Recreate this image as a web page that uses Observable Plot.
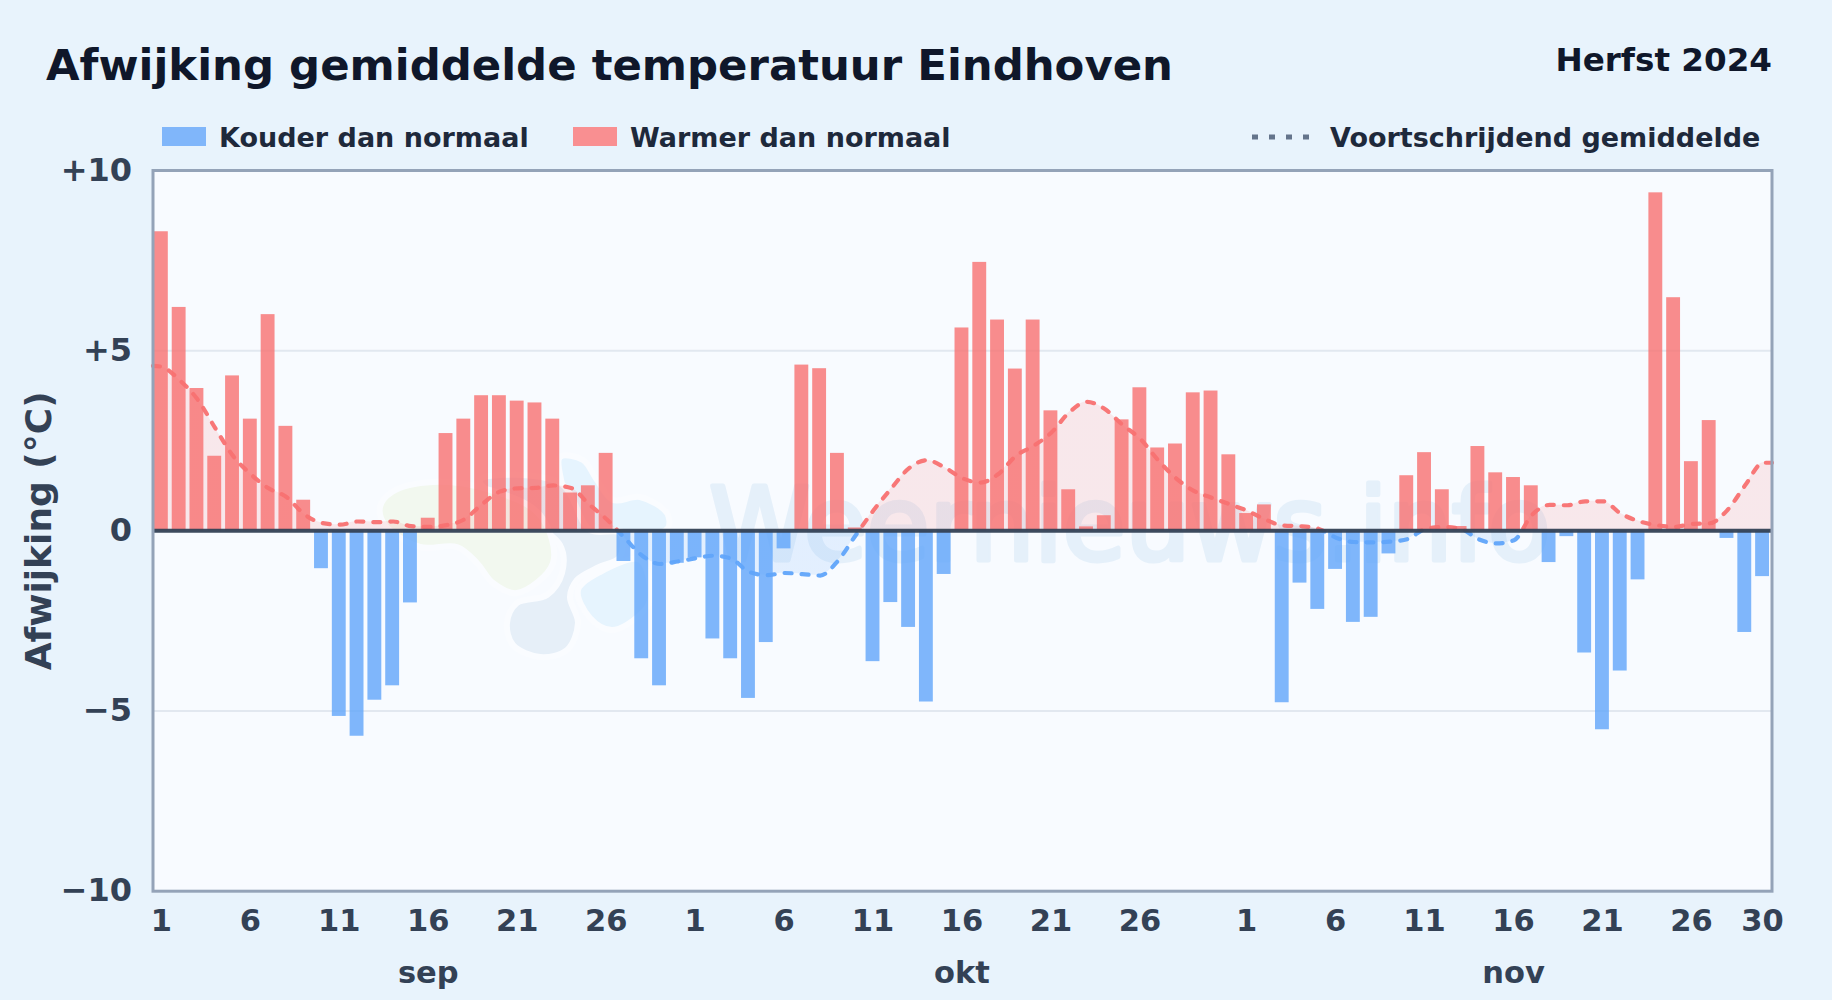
<!DOCTYPE html>
<html lang="nl">
<head>
<meta charset="utf-8">
<title>Afwijking gemiddelde temperatuur Eindhoven</title>
<script src="https://cdn.jsdelivr.net/npm/d3@7"></script>
<script src="https://cdn.jsdelivr.net/npm/@observablehq/plot@0.6"></script>
<style>
  html, body { margin: 0; padding: 0; background: #e8f3fc; }
  body { width: 1832px; height: 1000px; overflow: hidden; font-family: "DejaVu Sans", sans-serif; font-weight: 700; }
  #head { position: relative; width: 1832px; height: 155px; }
  #head > * { position: absolute; white-space: nowrap; line-height: 1; }
  #title { left: 46px; top: 44px; font-size: 43.4px; color: #0f172a; }
  #season { right: 60px; top: 44px; font-size: 32.6px; color: #0f172a; }
  .lbl { top: 123.5px; font-size: 27px; color: #1e293b; }
  .sw { top: 127px; width: 44px; height: 19px; }
  svg { display: block; }
</style>
</head>
<body>
<div id="head">
  <div id="title">Afwijking gemiddelde temperatuur Eindhoven</div>
  <div id="season">Herfst 2024</div>
  <div class="sw" style="left:162px;background:#80b6fa"></div>
  <div class="lbl" style="left:219px">Kouder dan normaal</div>
  <div class="sw" style="left:573px;background:#f98f91"></div>
  <div class="lbl" style="left:630px">Warmer dan normaal</div>
  <svg style="position:absolute;left:1250px;top:132px" width="60" height="10"><line x1="2" x2="60" y1="5" y2="5" stroke="#64748b" stroke-width="5" stroke-dasharray="6 11"/></svg>
  <div class="lbl" style="left:1330px">Voortschrijdend gemiddelde</div>
</div>
<script>
const sepValues = [8.3,6.2,3.95,2.07,4.3,3.1,6.0,2.9,0.85,-1.05,-5.15,-5.7,-4.7,-4.3,-2.0,0.35,2.7,3.1,3.75,3.75,3.6,3.55,3.1,1.05,1.25,2.15,-0.85,-3.55,-4.3,-0.9];
const oktValues = [-0.75,-3.0,-3.55,-4.65,-3.1,-0.5,4.6,4.5,2.15,0.08,-3.63,-1.99,-2.68,-4.75,-1.21,5.63,7.45,5.85,4.49,5.85,3.33,1.14,0.11,0.42,3.08,3.97,2.3,2.41,3.83,3.88,2.11];
const novValues = [0.48,0.72,-4.77,-1.45,-2.18,-1.07,-2.54,-2.4,-0.64,1.53,2.17,1.14,0.12,2.34,1.61,1.48,1.25,-0.88,-0.16,-3.39,-5.52,-3.89,-1.36,9.38,6.47,1.92,3.06,-0.21,-2.82,-1.27];

const sepAverage = [4.55,4.18,3.65,2.85,2.08,1.57,1.18,0.94,0.46,0.22,0.17,0.26,0.24,0.26,0.13,0.11,0.16,0.32,0.74,1.09,1.18,1.19,1.26,1.19,0.74,0.32,-0.19,-0.69,-0.92,-0.85];
const oktAverage = [-0.76,-0.69,-0.77,-1.14,-1.23,-1.17,-1.2,-1.24,-0.83,-0.12,0.57,1.18,1.74,1.96,1.76,1.46,1.34,1.57,2.08,2.36,2.73,3.29,3.58,3.38,2.94,2.55,1.96,1.46,1.11,0.92,0.74];
const novAverage = [0.56,0.32,0.15,0.13,0.06,-0.19,-0.31,-0.32,-0.3,-0.23,0.05,0.11,0.06,-0.23,-0.35,-0.26,0.44,0.72,0.71,0.82,0.82,0.48,0.27,0.16,0.11,0.19,0.21,0.58,1.27,1.89];
const averageAtStart = 4.58, averageAtEnd = 1.89;

const monthNames = ["sep", "okt", "nov"];
const monthLabelDay = 16;
const dayTicks = [1, 6, 11, 16, 21, 26];
const finalDayTick = 30;
const yTicks = [-10, -5, 0, 5, 10];
const gridValues = [-5, 5];
const yLabel = "Afwijking (\u00b0C)";
const watermark = "Weernieuws.info";

const months = [[sepValues, sepAverage], [oktValues, oktAverage], [novValues, novAverage]];
const rows = [];
months.forEach(([vals, avg], m) => vals.forEach((v, d) => rows.push({month: m, day: d + 1, value: v, average: avg[d], i: rows.length})));
const center = r => r.i + 0.47;
const tickRows = rows.filter(r => dayTicks.includes(r.day) || (r.month === 2 && r.day === finalDayTick));
const monthRows = rows.filter(r => r.day === monthLabelDay);
const avgPoints = [{x: 0, y: averageAtStart}, ...rows.map(r => ({x: r.i + 0.5, y: r.average})), {x: rows.length, y: averageAtEnd}];

const red = "#f87171", blue = "#60a5fa";
const ink = "#334155";

// Two-colour split at zero for the moving average line and its band
function splitGradients(index, {y}) {
  const g = d3.create("svg:defs");
  const add = (id, op) => {
    const lg = g.append("linearGradient").attr("id", id).attr("gradientUnits", "userSpaceOnUse")
      .attr("x1", 0).attr("x2", 0).attr("y1", y(10)).attr("y2", y(-10));
    [[0.5, red], [0.5, blue]].forEach(([o, c]) => lg.append("stop").attr("offset", o).attr("stop-color", c).attr("stop-opacity", op));
  };
  add("maStroke", 0.95);
  add("maFill", 0.14);
  return g.node();
}

// Faint logo behind the chart (decoration only)
function logoBlobs() {
  const curve = d3.line().curve(d3.curveCatmullRomClosed);
  const g = d3.create("svg:g").attr("stroke", "#fafcff").attr("stroke-width", 6).attr("transform", `translate(0,${-155})`);
  const shapes = [
    ["#e6f4fe", [[560,457],[583,460],[597,480],[613,500],[640,497],[667,513],[668,528],[650,535],[610,530],[570,530],[563,490]]],
    ["#e6eff8", [[480,480],[560,483],[590,530],[620,533],[620,557],[597,568],[577,580],[570,597],[578,623],[567,650],[540,657],[513,645],[507,623],[517,603],[547,595],[562,573],[560,545],[520,515]]],
    ["#f2f8ef", [[380,507],[392,492],[433,482],[490,490],[540,515],[553,563],[517,593],[493,583],[477,563],[457,547],[420,547],[385,525]]],
    ["#e6f4fe", [[578,590],[600,572],[640,560],[650,600],[640,615],[612,630],[590,618]]]
  ];
  shapes.forEach(([c, pts]) => g.append("path").attr("d", curve(pts)).attr("fill", c));
  return g.node();
}

const plot = Plot.plot({
  width: 1832,
  height: 845,
  marginTop: 15,
  marginBottom: 109.3,
  marginLeft: 152.5,
  marginRight: 60.5,
  style: {background: "transparent", fontFamily: "'DejaVu Sans', sans-serif", fontWeight: 700, overflow: "visible"},
  x: {domain: [0, rows.length], axis: null},
  y: {domain: [-10, 10], axis: null},
  marks: [
    splitGradients,
    Plot.frame({fill: "#f8fbff", stroke: "none"}),
    logoBlobs,
    Plot.text([watermark], {x: 54.9, y: 0.1, text: d => d, fontSize: 102, fontWeight: 400, fill: "#e5f0fa", stroke: "#e5f0fa", strokeWidth: 5, lineAnchor: "middle", textAnchor: "middle"}),
    Plot.ruleY(gridValues, {stroke: "#e2e8f0", strokeWidth: 2}),
    Plot.areaY(avgPoints, {x: "x", y1: 0, y2: "y", fill: "url(#maFill)", curve: "monotone-x"}),
    Plot.rectY(rows, {x1: r => center(r) - 0.39, x2: r => center(r) + 0.39, y1: 0, y2: "value", fill: r => r.value < 0 ? blue : red, fillOpacity: 0.8}),
    Plot.line(avgPoints, {x: "x", y: "y", stroke: "url(#maStroke)", strokeWidth: 4.2, strokeDasharray: "7 10", strokeLinecap: "round", curve: "monotone-x"}),
    Plot.ruleY([0], {stroke: ink, strokeWidth: 4, strokeOpacity: 0.95}),
    Plot.frame({stroke: "#94a3b8", strokeWidth: 3}),
    Plot.axisY({
      ticks: yTicks, tickSize: 0, tickPadding: 21, fontSize: 32, color: ink, label: null,
      tickFormat: d => d > 0 ? `+${d}` : d < 0 ? `\u2212${-d}` : "0"
    }),
    Plot.text([yLabel], {text: d => d, frameAnchor: "left", textAnchor: "middle", rotate: -90, dx: -114, fontSize: 36, fill: ink}),
    Plot.axisX({
      ticks: tickRows.map(center), tickSize: 0, tickPadding: 18, fontSize: 30.5, color: ink, label: null,
      tickFormat: x => rows[Math.floor(x)].day
    }),
    Plot.axisX({
      ticks: monthRows.map(center), tickSize: 0, tickPadding: 70, fontSize: 30.5, color: ink, label: null,
      tickFormat: x => monthNames[rows[Math.floor(x)].month]
    })
  ]
});
document.body.appendChild(plot);
</script>
</body>
</html>
